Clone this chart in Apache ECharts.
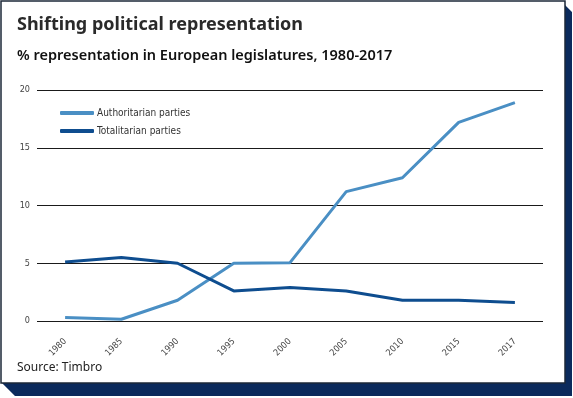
<!DOCTYPE html>
<html>
<head>
<meta charset="utf-8">
<title>Shifting political representation</title>
<script src="https://cdn.jsdelivr.net/npm/echarts@6/dist/echarts.min.js"></script>
<style>
  html, body { margin: 0; padding: 0; background: #fff; }
</style>
</head>
<body>
<div id="main" style="width: 573px; height: 398px;"></div>
<script type="text/javascript">

// data
var years = ['1980', '1985', '1990', '1995', '2000', '2005', '2010', '2015', '2017'];
var authoritarian = [0.3, 0.15, 1.8, 5.0, 5.05, 11.2, 12.4, 17.2, 18.9];
var totalitarian = [5.1, 5.5, 5.0, 2.6, 2.9, 2.6, 1.8, 1.8, 1.6];
var yTicks = [0, 5, 10, 15, 20];

var navy = '#0b2a5c';
var lightBlue = '#4a8fc4';
var darkBlue = '#0e4d8f';
var condensed = '"DejaVu Sans Condensed", "Liberation Sans Narrow", sans-serif';

var chartDom = document.getElementById('main');
var myChart = echarts.init(chartDom);
var option;

option = {
  backgroundColor: '#fff',
  animation: false,
  graphic: [
    {
      type: 'polygon',
      z: -10,
      shape: { points: [[563, 3], [572, 12], [572, 396], [15, 396], [2, 383], [563, 383]] },
      style: { fill: navy }
    },
    {
      type: 'rect',
      z: -9,
      shape: { x: 1, y: 1, width: 564, height: 382 },
      style: { fill: '#fff', stroke: '#1c2838', lineWidth: 1.5 }
    },
    {
      type: 'text',
      left: 17,
      top: 16,
      style: {
        text: 'Shifting political representation',
        font: 'bold 18px "Noto Sans", sans-serif',
        fill: '#2a2a2a'
      }
    },
    {
      type: 'text',
      left: 17,
      top: 48,
      style: {
        text: '% representation in European legislatures, 1980-2017',
        font: '600 14.5px "Noto Sans", sans-serif',
        fill: '#111'
      }
    },
    {
      type: 'text',
      left: 17,
      top: 362,
      style: {
        text: 'Source: Timbro',
        font: '12px "Noto Sans", sans-serif',
        fill: '#222'
      }
    }
  ],
  legend: {
    orient: 'vertical',
    left: 55,
    top: 103,
    itemWidth: 34,
    itemHeight: 4,
    itemGap: 8,
    icon: 'roundRect',
    textStyle: { fontFamily: condensed, fontSize: 10, color: '#333', padding: [0, 0, 0, -2] },
    data: ['Authoritarian parties', 'Totalitarian parties']
  },
  grid: {
    left: 37,
    right: 30,
    top: 90,
    bottom: 77
  },
  xAxis: {
    type: 'category',
    data: years,
    boundaryGap: true,
    axisLine: { show: false },
    axisTick: { show: false },
    axisLabel: {
      rotate: 45,
      margin: 19,
      fontFamily: condensed,
      fontSize: 9,
      color: '#444'
    }
  },
  yAxis: {
    type: 'value',
    min: yTicks[0],
    max: yTicks[yTicks.length - 1],
    interval: 5,
    axisLine: { show: false },
    axisTick: { show: false },
    axisLabel: {
      margin: 7,
      fontFamily: condensed,
      fontSize: 9,
      color: '#444'
    },
    splitLine: { lineStyle: { color: '#1a1a1a', width: 1 } }
  },
  series: [
    {
      name: 'Authoritarian parties',
      type: 'line',
      data: authoritarian,
      showSymbol: false,
      color: lightBlue,
      lineStyle: { width: 3, color: lightBlue }
    },
    {
      name: 'Totalitarian parties',
      type: 'line',
      data: totalitarian,
      showSymbol: false,
      color: darkBlue,
      lineStyle: { width: 3, color: darkBlue }
    }
  ]
};

option && myChart.setOption(option);
</script>
</body>
</html>
